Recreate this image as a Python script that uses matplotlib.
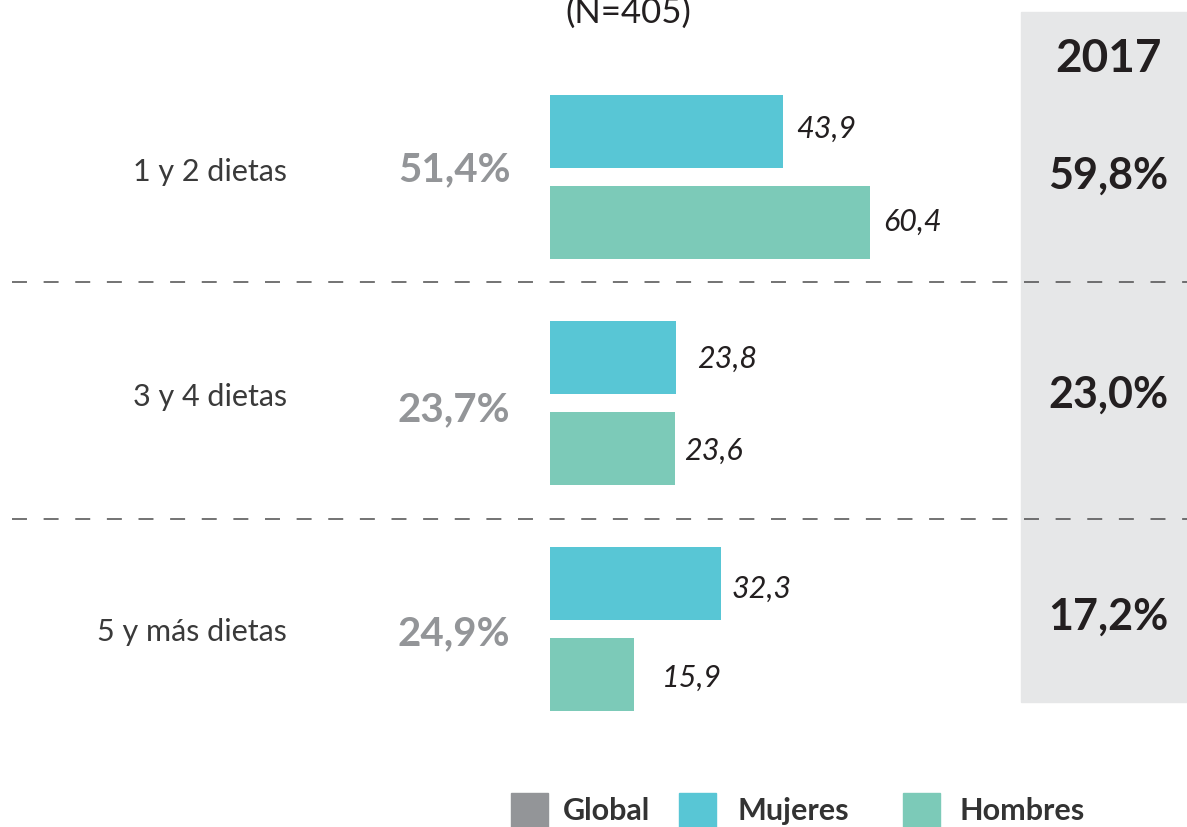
import matplotlib.pyplot as plt
import matplotlib.transforms as mtransforms
from matplotlib.patches import Rectangle

plt.rcParams['font.family'] = ['Lato', 'DejaVu Sans']

categories = ['1 y 2 dietas', '3 y 4 dietas', '5 y más dietas']
global_pct = ['51,4%', '23,7%', '24,9%']
mujeres = [43.9, 23.8, 32.3]
hombres = [60.4, 23.6, 15.9]
pct_2017 = ['59,8%', '23,0%', '17,2%']
year_label = '2017'
subtitle = '(N=405)'
legend_labels = ['Global', 'Mujeres', 'Hombres']

c_global = '#939598'
c_muj = '#58c6d5'
c_hom = '#7ccab8'
c_text = '#3a3a3a'
c_dark = '#231f20'

W, H = 1187, 828
fig = plt.figure(figsize=(W / 100, H / 100), dpi=100)

# background axes in pixel coords
bg = fig.add_axes([0, 0, 1, 1])
bg.set_xlim(0, W)
bg.set_ylim(H, 0)
bg.axis('off')

# bar axes: x in values, y in group index
px_per_unit = 5.3
x0 = 550
group_px = 226
first_px = 178
ax = fig.add_axes([0, 0, 1, 1], facecolor='none')
ax.set_xlim(-x0 / px_per_unit, (W - x0) / px_per_unit)
ax.set_ylim((H - first_px) / group_px, -first_px / group_px)
ax.axis('off')
mix = mtransforms.blended_transform_factory(bg.transData, ax.transData)

# grey 2017 column
bg.add_patch(Rectangle((1021, 13), W - 1021, 690, color='#e6e7e8', zorder=0))

# dashed separators
for yy in [283, 520]:
    bg.plot([12, W], [yy, yy], color='#4d4d4d', lw=1.1, ls=(0, (9.8, 10.9)), zorder=1)

bh = 73 / group_px
off = 45.5 / group_px
ys = list(range(len(categories)))
ax.barh([y - off for y in ys], mujeres, height=bh, color=c_muj, zorder=2)
ax.barh([y + off for y in ys], hombres, height=bh, color=c_hom, zorder=2)

# value labels (small per-label nudges in pixels)
muj_dx = [14, 21, 10]
muj_dy = [-4, 0, 4]
hom_dx = [13, 9, 28]
hom_dy = [-2, 1, 2]
for i, y in enumerate(ys):
    ax.annotate(f'{mujeres[i]:.1f}'.replace('.', ','), (mujeres[i], y - off),
                xytext=(muj_dx[i] * 0.72, -muj_dy[i] * 0.72), textcoords='offset points',
                ha='left', va='center', fontsize=22, style='italic',
                color=c_dark)
    ax.annotate(f'{hombres[i]:.1f}'.replace('.', ','), (hombres[i], y + off),
                xytext=(hom_dx[i] * 0.72, -hom_dy[i] * 0.72), textcoords='offset points',
                ha='left', va='center', fontsize=22, style='italic',
                color=c_dark)

# category labels, global pct, 2017 pct
cat_dy = [-6, -7, 2]
glob_dy = [-8, 6, 4]
yr_dy = [-2, -9, -13]
for i, y in enumerate(ys):
    ax.annotate(categories[i], (287, y), xycoords=mix, xytext=(0, -cat_dy[i] * 0.72),
                textcoords='offset points', ha='right', va='center', fontsize=22, color=c_text)
    ax.annotate(global_pct[i], (454, y), xycoords=mix, xytext=(0, -glob_dy[i] * 0.72),
                textcoords='offset points', ha='center', va='center', fontsize=29,
                fontweight='bold', color=c_global)
    ax.annotate(pct_2017[i], (1108, y), xycoords=mix, xytext=(0, -yr_dy[i] * 0.72),
                textcoords='offset points', ha='center', va='center', fontsize=31,
                fontweight='bold', color=c_dark)

bg.text(1108, 59, year_label, ha='center', va='center', fontsize=33, fontweight='bold', color=c_dark)
bg.text(628, 13, subtitle, ha='center', va='center', fontsize=25, color=c_dark)

# legend
leg_colors = [c_global, c_muj, c_hom]
leg_box_x = [511, 679, 903]
leg_text_x = [563, 737, 960]
for lbl, col, bx, tx in zip(legend_labels, leg_colors, leg_box_x, leg_text_x):
    bg.add_patch(Rectangle((bx, 794), 37, 36, color=col, zorder=2))
    bg.text(tx, 811, lbl, ha='left', va='center', fontsize=22, fontweight='bold', color='#333333')

fig.savefig('out.png', dpi=100)
